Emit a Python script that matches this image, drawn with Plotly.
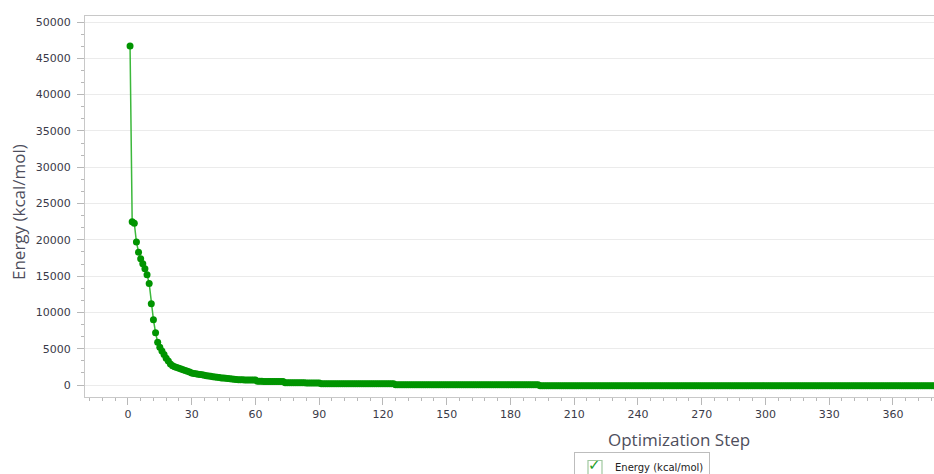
import plotly.graph_objects as go

# ---- data ----
energy_fast = [46700, 22500, 22300, 19700, 18300, 17400, 16700, 16000, 15200, 14000,
               11200, 9000, 7200, 5900, 5200, 4700, 4200, 3700, 3300]
energy_decay = [2900, 2650, 2500, 2400, 2300, 2200, 2100, 2000, 1900, 1800,
                1650, 1600, 1550, 1500, 1450, 1400, 1330, 1280, 1240, 1200,
                1150, 1100, 1060, 1020, 980, 950, 920, 890, 860, 830,
                800, 770, 740, 720]
energy_plateau1 = [710, 700, 700, 690, 690, 680, 680]
energy_plateau2 = [520, 510, 510, 500, 500, 500, 490, 490, 490, 480, 480, 480, 470]
energy_plateau3 = [330, 320, 320, 310, 310, 310, 300, 300, 300, 300, 290, 290, 290,
                   290, 280, 280, 280]
energy_plateau4 = [175, 175, 175, 172, 172, 172, 170, 170, 170, 170, 168, 168, 168,
                   168, 165, 165, 165, 165, 165, 162, 162, 162, 162, 162, 160, 160,
                   160, 160, 160, 160, 158, 158, 158, 158, 158]
energy_plateau5 = [45, 45, 45, 44, 44, 44, 43, 43, 43, 42, 42, 42, 41, 41, 41, 40, 40,
                   40, 40, 39, 39, 39, 38, 38, 38, 37, 37, 37, 36, 36, 36, 35, 35, 35,
                   34, 34, 34, 33, 33, 33, 32, 32, 32, 31, 31, 31, 30, 30, 30, 29, 29,
                   29, 28, 28, 28, 27, 27, 27, 26, 26, 26, 25, 25, 25, 24, 24, 24, 23]
energy_final = [-85, -85, -85, -86, -86, -86, -86, -87, -87, -87, -87, -88, -88, -88, -88, -88, -89,
                -89, -89, -89, -89, -90, -90, -90, -90, -90, -90, -91, -91, -91, -91, -91, -91,
                -92, -92, -92, -92, -92, -92, -92, -93, -93, -93, -93, -93, -93, -93, -93, -94,
                -94, -94, -94, -94, -94, -94, -94, -94, -95, -95, -95, -95, -95, -95, -95, -95,
                -95, -95, -96, -96, -96, -96, -96, -96, -96, -96, -96, -96, -96, -97, -97, -97,
                -97, -97, -97, -97, -97, -97, -97, -97, -97, -98, -98, -98, -98, -98, -98, -98,
                -98, -98, -98, -98, -98, -98, -98, -99, -99, -99, -99, -99, -99, -99, -99, -99,
                -99, -99, -99, -99, -99, -99, -99, -100, -100, -100, -100, -100, -100, -100, -100, -100,
                -100, -100, -100, -100, -100, -100, -100, -100, -100, -100, -100, -100, -100, -100, -100, -100,
                -101, -101, -101, -101, -101, -101, -101, -101, -101, -101, -101, -101, -101, -101, -101, -101,
                -101, -101, -101, -101, -101, -101, -101, -101, -101, -101, -101, -101, -101, -101, -101, -101,
                -101, -101, -101, -101, -101, -101, -101, -101, -101, -101, -101, -101, -101, -101, -101, -101,
                -102, -102, -102, -102]

energy = (energy_fast + energy_decay + energy_plateau1 + energy_plateau2 +
          energy_plateau3 + energy_plateau4 + energy_plateau5 + energy_final)
steps = list(range(1, len(energy) + 1))

y_tickvals = [0, 5000, 10000, 15000, 20000, 25000, 30000, 35000, 40000, 45000, 50000]
y_ticktext = ["0", "5000", "10000", "15000", "20000", "25000", "30000", "35000",
              "40000", "45000", "50000"]
x_tickvals = [0, 30, 60, 90, 120, 150, 180, 210, 240, 270, 300, 330, 360]
x_ticktext = ["0", "30", "60", "90", "120", "150", "180", "210", "240", "270",
              "300", "330", "360"]

series_name = "Energy (kcal/mol)"
x_title = "Optimization Step"
y_title = "Energy (kcal/mol)"

W, H = 934, 474
ML, MR, MT, MB = 85, 0, 16, 77
PW, PH = W - ML - MR, H - MT - MB


def px_x(px):
    return (px - ML) / PW


def px_y(py):
    return (H - MB - py) / PH


LABEL_FONT = "DejaVu Sans"
TITLE_FONT = "Open Sans"

fig = go.Figure()
fig.add_trace(go.Scatter(
    x=steps, y=energy, mode="lines+markers", name=series_name,
    line=dict(color="#3cb83c", width=1.5),
    marker=dict(color="#009400", size=7),
    showlegend=False, hoverinfo="skip",
))
# legend entry (checkbox look)
fig.add_trace(go.Scatter(
    x=[None], y=[None], mode="markers", name=series_name,
    marker=dict(symbol="square-open", size=14, color="#a0c8a0", line=dict(width=1.2)),
    showlegend=True,
))

fig.update_layout(
    width=W, height=H,
    margin=dict(l=ML, r=MR, t=MT, b=MB, pad=0, autoexpand=False),
    paper_bgcolor="white", plot_bgcolor="white",
    font=dict(family=LABEL_FONT, size=11, color="#3a3a48"),
    showlegend=True,
    legend=dict(
        x=px_x(574), y=px_y(452), xanchor="left", yanchor="top",
        orientation="h", bordercolor="#bdbdbd", borderwidth=1, bgcolor="white",
        font=dict(family=LABEL_FONT, size=10, color="#222222"),
        itemwidth=30,
    ),
    xaxis=dict(
        range=[-20.2, 379.3], tickmode="array", tickvals=x_tickvals, ticktext=x_ticktext,
        ticks="outside", ticklen=7, tickcolor="#b8b8b8", tickwidth=1,
        showline=True, linecolor="#c8c8c8", linewidth=1, mirror=True,
        showgrid=False, zeroline=False,
        tickfont=dict(family=LABEL_FONT, size=11, color="#3a3a48"),
        minor=dict(dtick=6, tick0=0, ticks="outside", ticklen=3,
                   tickcolor="#b8b8b8", showgrid=False),
    ),
    yaxis=dict(
        range=[-1650, 50830], tickmode="array", tickvals=y_tickvals, ticktext=y_ticktext,
        ticks="outside", ticklen=7, tickcolor="#b8b8b8", tickwidth=1,
        showline=True, linecolor="#c8c8c8", linewidth=1,
        showgrid=True, gridcolor="#ebebeb", gridwidth=1, zeroline=False,
        ticklabelstandoff=4,
        tickfont=dict(family=LABEL_FONT, size=11, color="#3a3a48"),
        minor=dict(dtick=5000 / 3, tick0=0, ticks="outside", ticklen=3,
                   tickcolor="#b8b8b8", showgrid=False),
    ),
    annotations=[
        dict(text=x_title, xref="paper", yref="paper", x=px_x(679), y=px_y(439),
             xanchor="center", yanchor="middle", showarrow=False,
             font=dict(family=TITLE_FONT, size=17, color="#4e4e5c")),
        dict(text=y_title, xref="paper", yref="paper", x=px_x(18), y=px_y(212),
             xanchor="center", yanchor="middle", showarrow=False, textangle=-90,
             font=dict(family=TITLE_FONT, size=17, color="#4e4e5c")),
        dict(text="<b>✓</b>", xref="paper", yref="paper", x=px_x(594), y=px_y(465),
             xanchor="center", yanchor="middle", showarrow=False,
             font=dict(family="DejaVu Sans", size=15, color="#1f9e1f")),
    ],
)

fig.write_html("out.html", config={"displayModeBar": False},
               post_script="document.body.style.margin='0';")
